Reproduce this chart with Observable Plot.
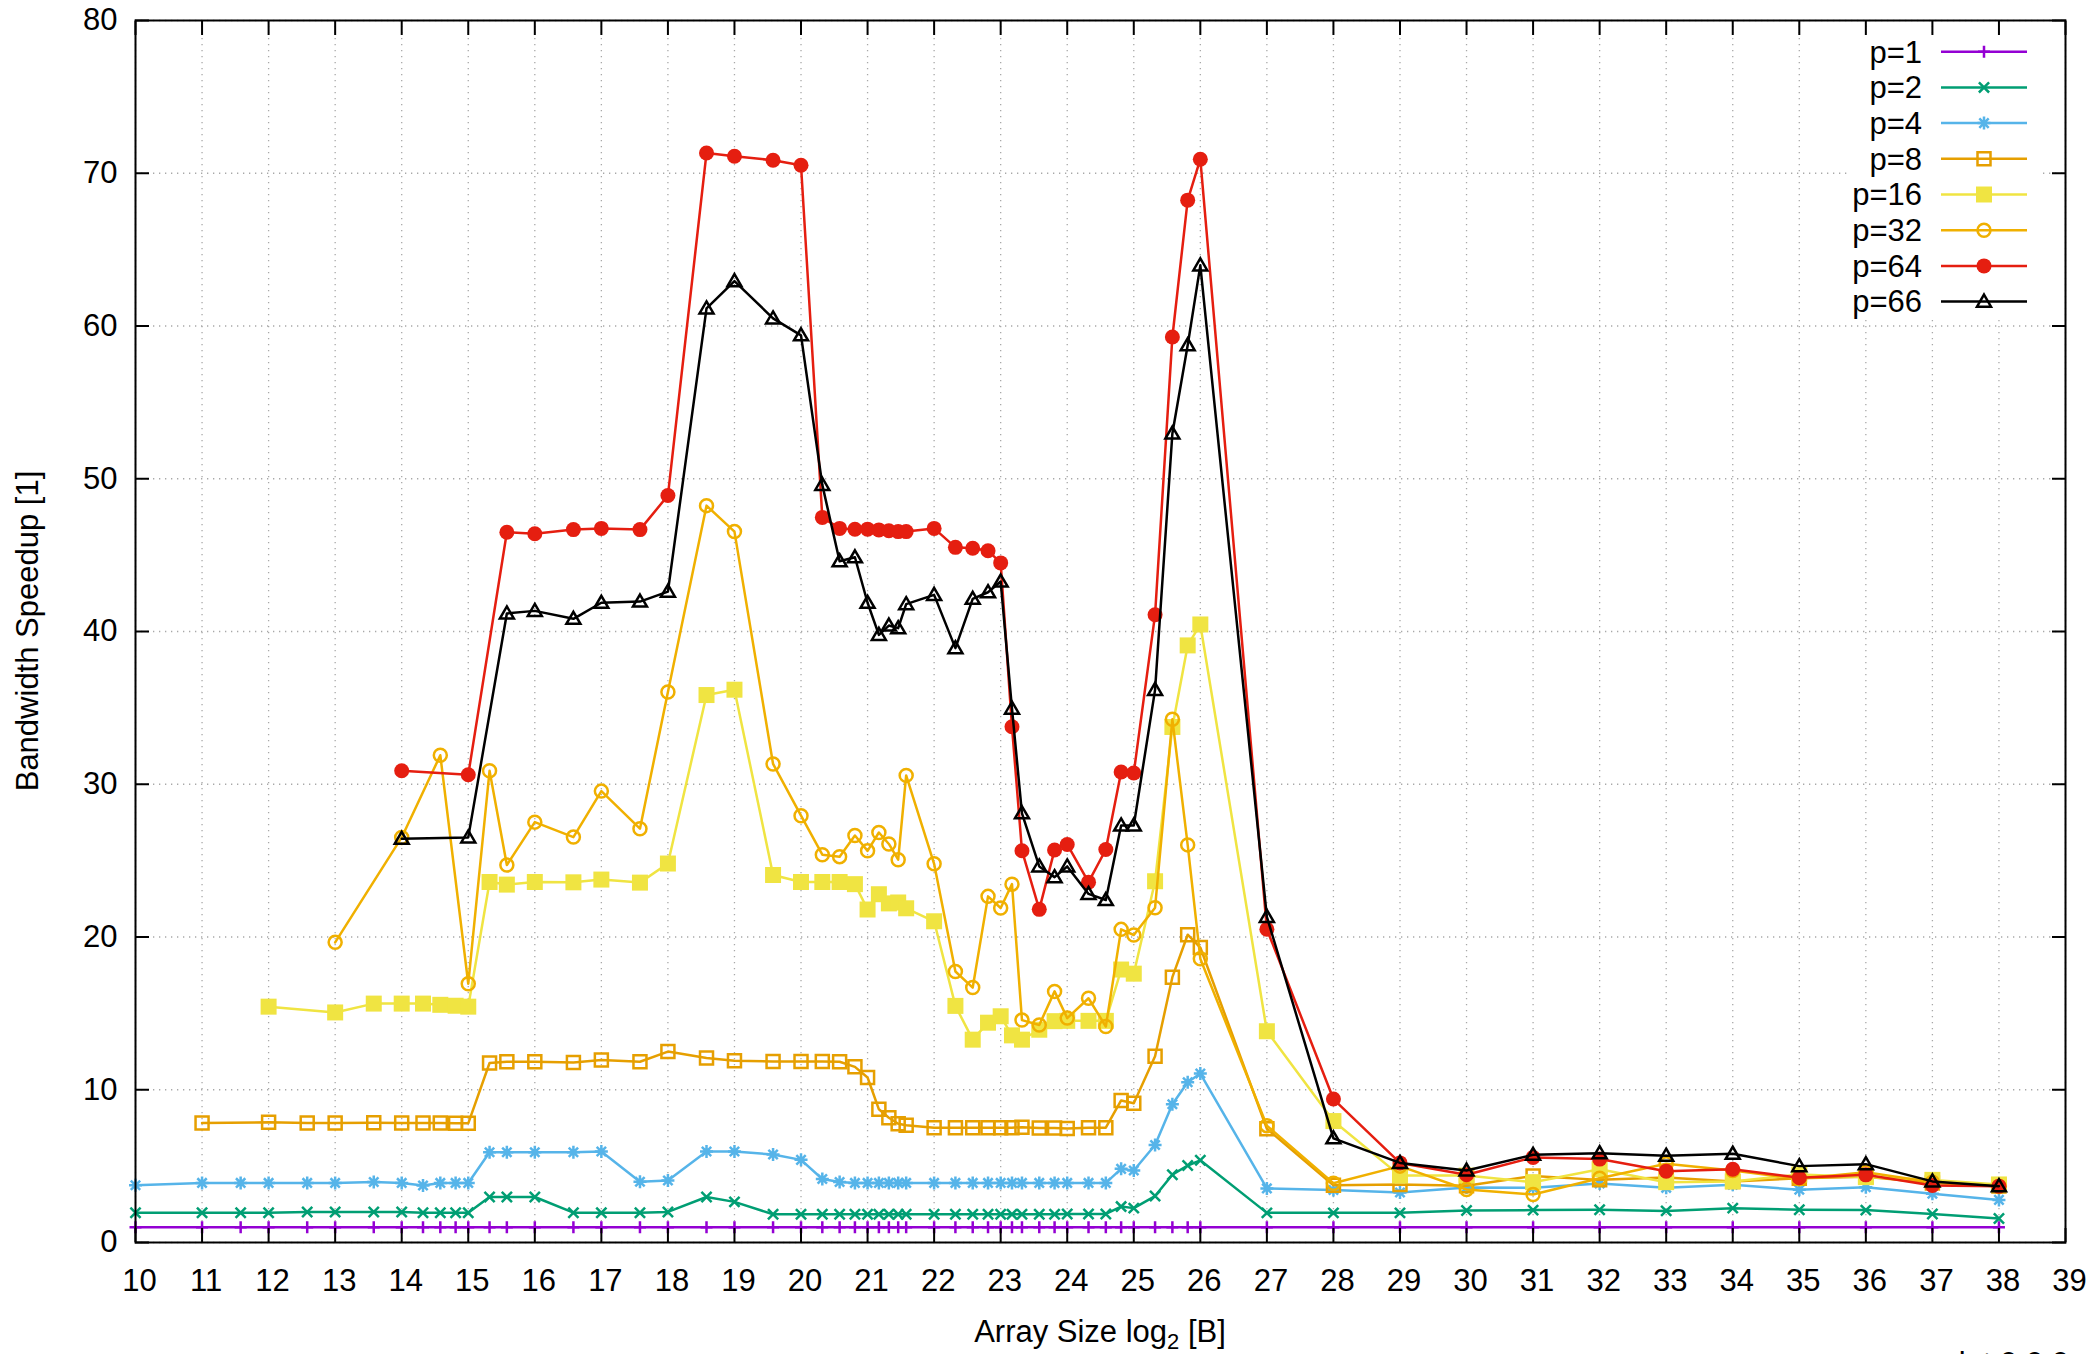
<!DOCTYPE html>
<html><head><meta charset="utf-8">
<script src="https://cdn.jsdelivr.net/npm/d3@7"></script>
<script src="https://cdn.jsdelivr.net/npm/@observablehq/plot@0.6"></script>
<style>
html,body{margin:0;padding:0;background:#fff;}
#wrap{position:relative;width:2090px;height:1354px;overflow:hidden;background:#fff;}
</style></head><body><div id="wrap"></div>
<script>
// ---- data (x = log2 of array size in bytes) ----
const sizes = [10, 11, 11.58, 12, 12.58, 13, 13.58,
  14, 14.32, 14.58, 14.81, 15, 15.32, 15.58, 16, 16.58, 17, 17.58, 18, 18.58, 19, 19.58,
  20, 20.32, 20.58, 20.81, 21, 21.17, 21.32, 21.46, 21.58, 22, 22.32, 22.58, 22.81,
  23, 23.17, 23.32, 23.58, 23.81, 24, 24.32, 24.58, 24.81, 25, 25.32, 25.58, 25.81, 26,
  27, 28, 29, 30, 31, 32, 33, 34, 35, 36, 37, 38];

const p1 = sizes.map(() => 1.0);

const p2 = [1.95, 1.95, 1.95, 1.95, 2.0, 2.0, 2.0,
  2.0, 1.95, 1.95, 1.95, 1.95, 2.98, 2.98, 2.98, 1.95, 1.95, 1.95, 2.0, 2.98, 2.66, 1.85,
  1.85, 1.85, 1.85, 1.85, 1.85, 1.85, 1.85, 1.85, 1.85, 1.85, 1.85, 1.85, 1.85,
  1.85, 1.85, 1.85, 1.85, 1.85, 1.87, 1.87, 1.87, 2.35, 2.25, 3.04, 4.44, 5.04, 5.38,
  1.94, 1.94, 1.94, 2.1, 2.12, 2.14, 2.07, 2.25, 2.14, 2.12, 1.86, 1.57];

const p4 = [3.75, 3.9, 3.9, 3.9, 3.9, 3.9, 3.96,
  3.9, 3.73, 3.9, 3.9, 3.9, 5.91, 5.91, 5.91, 5.91, 5.96, 3.98, 4.06, 5.96, 5.96, 5.76,
  5.41, 4.16, 3.96, 3.9, 3.9, 3.9, 3.9, 3.9, 3.9, 3.9, 3.9, 3.9, 3.9,
  3.9, 3.9, 3.9, 3.9, 3.9, 3.9, 3.9, 3.9, 4.82, 4.71, 6.38, 9.05, 10.49, 11.06,
  3.54, 3.44, 3.27, 3.6, 3.58, 3.86, 3.58, 3.78, 3.45, 3.62, 3.19, 2.79];

const p8 = [null, 7.82, null, 7.87, 7.82, 7.82, 7.84,
  7.82, 7.82, 7.82, 7.8, 7.8, 11.75, 11.83, 11.83, 11.78, 11.95, 11.83, 12.5, 12.08, 11.9, 11.85,
  11.85, 11.85, 11.83, 11.5, 10.8, 8.72, 8.17, 7.77, 7.67, 7.52, 7.52, 7.52, 7.52,
  7.52, 7.52, 7.55, 7.5, 7.5, 7.47, 7.52, 7.52, 9.3, 9.12, 12.2, 17.37, 20.15, 19.31,
  7.45, 3.75, 3.8, 3.71, 4.35, 4.1, 4.25, 4.0, 4.2, 4.3, 3.9, 3.7];

const p16 = [null, null, null, 15.44, null, 15.06, 15.64,
  15.64, 15.64, 15.56, 15.5, 15.44, 23.6, 23.43, 23.6, 23.58, 23.76, 23.56, 24.81, 35.84, 36.19, 24.06,
  23.6, 23.6, 23.6, 23.46, 21.8, 22.8, 22.2, 22.26, 21.88, 21.03, 15.49, 13.28, 14.39,
  14.81, 13.56, 13.28, 13.93, 14.49, 14.51, 14.51, 14.51, 17.87, 17.6, 23.65, 33.75, 39.09, 40.46,
  13.83, 7.95, 4.38, 4.38, 3.95, 4.8, 3.95, 4.0, 4.45, 4.28, 4.1, 3.8];

const p32 = [null, null, null, null, null, 19.65, null,
  26.52, null, 31.9, null, 16.94, 30.88, 24.71, 27.52, 26.54, 29.55, 27.09, 36.04, 48.24, 46.54, 31.33,
  27.94, 25.39, 25.26, 26.64, 25.64, 26.84, 26.09, 25.06, 30.58, 24.79, 17.74, 16.69, 22.66,
  21.9, 23.46, 14.56, 14.24, 16.44, 14.69, 15.99, 14.14, 20.5, 20.13, 21.92, 34.25, 26.03, 18.58,
  7.65, 3.88, 5.0, 3.47, 3.14, 4.21, 5.15, 4.72, 4.17, 4.6, 3.95, 3.67];

const p64 = [null, null, null, null, null, null, null,
  30.88, null, null, null, 30.62, null, 46.5, 46.4, 46.67, 46.75, 46.67, 48.9, 71.33, 71.11, 70.85,
  70.52, 47.47, 46.75, 46.69, 46.7, 46.65, 46.6, 46.54, 46.54, 46.75, 45.51, 45.45, 45.29,
  44.49, 33.76, 25.65, 21.81, 25.7, 26.06, 23.59, 25.73, 30.8, 30.74, 41.1, 59.28, 68.24, 70.92,
  20.51, 9.39, 5.21, 4.44, 5.57, 5.46, 4.67, 4.8, 4.24, 4.43, 3.73, 3.69];

const p66 = [null, null, null, null, null, null, null,
  26.43, null, null, null, 26.52, null, 41.18, 41.35, 40.83, 41.88, 41.96, 42.61, 61.15, 62.94, 60.5,
  59.39, 49.6, 44.6, 44.86, 41.88, 39.78, 40.39, 40.22, 41.79, 42.4, 38.91, 42.14, 42.57,
  43.27, 34.95, 28.1, 24.62, 23.92, 24.62, 22.82, 22.42, 27.3, 27.3, 36.18, 52.96, 58.74, 63.97,
  21.32, 6.82, 5.21, 4.71, 5.74, 5.85, 5.68, 5.81, 5.0, 5.13, 4.0, 3.69];

const seriesNames = ["p=1", "p=2", "p=4", "p=8", "p=16", "p=32", "p=64", "p=66"];
const seriesValues = [p1, p2, p4, p8, p16, p32, p64, p66];
const xTicks = d3.range(10, 40);
const yTicks = d3.range(0, 81, 10);

// ---- styles ----
const colors = ["#9400D3", "#009E73", "#56B4E9", "#E69F00", "#F0E442", "#F0B000", "#E51E10", "#000000"];
const sym = {
  plus: {draw(c, s){const r=Math.sqrt(s/Math.PI); c.moveTo(-r,0);c.lineTo(r,0);c.moveTo(0,-r);c.lineTo(0,r);}},
  times: {draw(c, s){const r=Math.sqrt(s/Math.PI)*0.85; c.moveTo(-r,-r);c.lineTo(r,r);c.moveTo(-r,r);c.lineTo(r,-r);}},
  star: {draw(c, s){const r=Math.sqrt(s/Math.PI), q=r*0.72; c.moveTo(-r,0);c.lineTo(r,0);c.moveTo(0,-r);c.lineTo(0,r);c.moveTo(-q,-q);c.lineTo(q,q);c.moveTo(-q,q);c.lineTo(q,-q);}},
  square: {draw(c, s){const r=Math.sqrt(s/Math.PI); c.rect(-r,-r,2*r,2*r);}},
  circle: {draw(c, s){const r=Math.sqrt(s/Math.PI); c.moveTo(r,0); c.arc(0,0,r,0,2*Math.PI);}},
  triangle: {draw(c, s){const r=Math.sqrt(s/Math.PI); c.moveTo(0,-r); c.lineTo(r,0.72*r); c.lineTo(-r,0.72*r); c.closePath();}}
};
const symbols = [sym.plus, sym.times, sym.star, sym.square, sym.square, sym.circle, sym.circle, sym.triangle];
const radii = [6, 6, 6.5, 6.5, 8, 6.5, 7.5, 7];
const filled = [false, false, false, false, true, false, true, false];

const W = 2090, H = 1354, mL = 135, mR = 25, mT = 20, mB = 112;
const FONT = "'Liberation Sans', Arial, Helvetica, sans-serif";
const FS = 31;
const gridStyle = {stroke: "#a8a8a8", strokeOpacity: 1, strokeWidth: 1.3, strokeDasharray: "1.3,4.7"};

const marks = [Plot.gridX(xTicks, gridStyle), Plot.gridY(yTicks, gridStyle)];
seriesValues.forEach((vals, si) => {
  const data = sizes.map((x, i) => ({x, y: vals[i]})).filter(d => d.y != null);
  marks.push(Plot.line(data, {x: "x", y: "y", stroke: colors[si], strokeWidth: 2.5}));
  marks.push(Plot.dot(data, {x: "x", y: "y", symbol: symbols[si], r: radii[si],
    stroke: filled[si] ? "none" : colors[si], fill: filled[si] ? colors[si] : "none", strokeWidth: 2.5}));
});
marks.push(Plot.frame({stroke: "black", strokeWidth: 2}));
for (const a of ["bottom", "top"]) marks.push(Plot.axisX(xTicks, {anchor: a, tickSize: -14, strokeWidth: 2, tickFormat: () => "", label: null}));
for (const a of ["left", "right"]) marks.push(Plot.axisY(yTicks, {anchor: a, tickSize: -14, strokeWidth: 2, tickFormat: () => "", label: null}));
marks.push(Plot.axisX(xTicks, {anchor: "bottom", tickSize: 0, tickPadding: 26, dx: 4, label: null, fontSize: FS}));
marks.push(Plot.axisY(yTicks, {anchor: "left", tickSize: 0, tickPadding: 18, label: null, fontSize: FS}));

const chart = Plot.plot({
  width: W, height: H, marginLeft: mL, marginRight: mR, marginTop: mT, marginBottom: mB,
  x: {type: "linear", domain: [10, 39]},
  y: {type: "linear", domain: [0, 80]},
  style: {fontFamily: FONT, fontSize: FS + "px", color: "black", background: "white", overflow: "hidden"},
  marks
});
document.getElementById("wrap").appendChild(chart);

// axis titles
const svg = d3.select(chart);
const cx = (mL + W - mR) / 2, cy = (mT + H - mB) / 2;
const xl = svg.append("text").attr("x", cx).attr("y", 1342).attr("text-anchor", "middle")
  .attr("font-family", FONT).attr("font-size", FS).attr("fill", "black");
xl.append("tspan").text("Array Size log");
xl.append("tspan").attr("font-size", 22).attr("dy", 7).text("2");
xl.append("tspan").attr("dy", -7).text(" [B]");
svg.append("text").attr("transform", `translate(38,${cy}) rotate(-90)`).attr("text-anchor", "middle")
  .attr("font-family", FONT).attr("font-size", FS).attr("fill", "black").text("Bandwidth Speedup [1]");
svg.append("text").attr("x", 2069).attr("y", 1374).attr("text-anchor", "end")
  .attr("font-family", FONT).attr("font-size", FS).attr("fill", "black").text("gnuplot 0.0.0");

// legend (key box, opaque)
const leg = d3.select("#wrap").append("svg").attr("width", 193).attr("height", 284)
  .style("position", "absolute").style("left", "1850px").style("top", "36px").style("background", "#fff");
seriesNames.forEach((name, i) => {
  const y = 15.7 + 35.7 * i;
  leg.append("text").attr("x", 72).attr("y", y).attr("dy", "0.35em").attr("text-anchor", "end")
    .attr("font-family", FONT).attr("font-size", FS).attr("fill", "black").text(name);
  leg.append("line").attr("x1", 91).attr("x2", 177).attr("y1", y).attr("y2", y)
    .attr("stroke", colors[i]).attr("stroke-width", 2.5);
  const p = d3.path(); symbols[i].draw(p, Math.PI * radii[i] * radii[i]);
  leg.append("path").attr("transform", `translate(134,${y})`).attr("d", p.toString())
    .attr("fill", filled[i] ? colors[i] : "none").attr("stroke", filled[i] ? "none" : colors[i]).attr("stroke-width", 2.5);
});
</script></body></html>
